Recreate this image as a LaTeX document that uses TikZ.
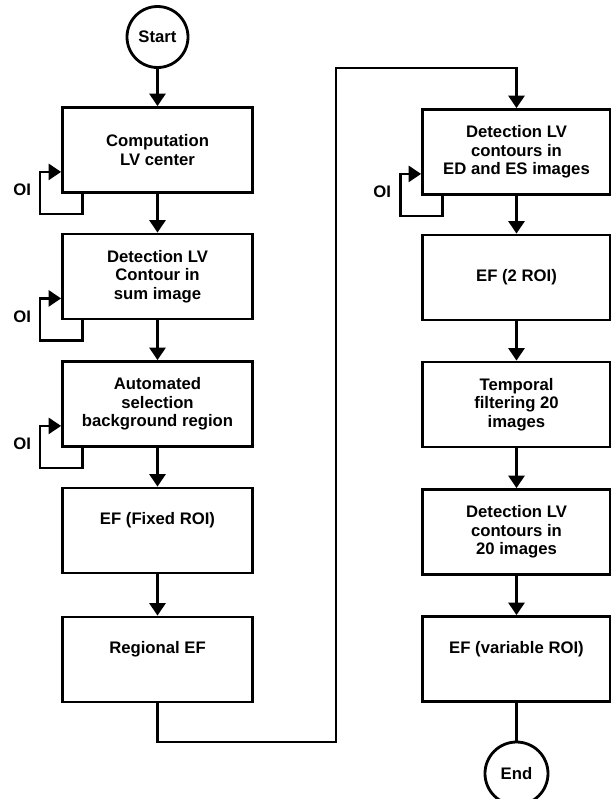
\documentclass[tikz,border=0pt]{standalone}
\usepackage{fontspec}
\setmainfont{Liberation Sans}
\usetikzlibrary{positioning, arrows.meta, calc}

\tikzset{
    stepbox/.style={draw, line width=1.6pt, minimum width=3.8cm, minimum height=1.7cm, align=center, inner sep=2pt},
    termnode/.style={draw, circle, line width=1.6pt, minimum size=1.22cm, inner sep=0pt},
    flow/.style={line width=1.6pt, -{Triangle[length=0.25cm, width=0.32cm]}},
    plainline/.style={line width=1.6pt}
}

\begin{document}
\begin{tikzpicture}[font=\bfseries\fontsize{9.5}{10.5}\selectfont]
    \useasboundingbox (0,0) rectangle (12.22,-15.98);

    % left column
    \node[termnode] (start) at (3.15,-0.74) {Start};
    \node[stepbox] (comp) at (3.15,-3.00) {Computation\\LV center};
    \node[stepbox] (sumc) at (3.15,-5.53) {Detection LV\\Contour in\\sum image};
    \node[stepbox] (bgsel) at (3.15,-8.08) {Automated\\selection\\background region};
    \node[stepbox] (effix) at (3.15,-10.61) {EF (Fixed ROI)\\ \strut};
    \node[stepbox] (regef) at (3.15,-13.19) {Regional EF\\ \strut};

    % right column
    \node[stepbox, minimum width=3.76cm] (edes) at (10.33,-3.04) {Detection LV\\contours in\\ED and ES images};
    \node[stepbox, minimum width=3.76cm] (eftwo) at (10.33,-5.55) {EF (2 ROI)};
    \node[stepbox, minimum width=3.76cm] (tempf) at (10.33,-8.09) {Temporal\\filtering 20\\images};
    \node[stepbox, minimum width=3.76cm] (det20) at (10.33,-10.64) {Detection LV\\contours in\\20 images};
    \node[stepbox, minimum width=3.76cm] (efvar) at (10.33,-13.18) {EF (variable ROI)\\ \strut};
    \node[termnode, minimum size=1.26cm] (end) at (10.33,-15.47) {End};

    \draw[flow] (start) -- (comp);
    \draw[flow] (comp) -- (sumc);
    \draw[flow] (sumc) -- (bgsel);
    \draw[flow] (bgsel) -- (effix);
    \draw[flow] (effix) -- (regef);

    % link between the two columns
    \coordinate (lowturn) at (6.72,-14.84);
    \coordinate (highturn) at (6.72,-1.36);
    \draw[flow] (regef.south) |- (lowturn) -- (highturn) -| (edes.north);

    \draw[flow] (edes) -- (eftwo);
    \draw[flow] (eftwo) -- (tempf);
    \draw[flow] (tempf) -- (det20);
    \draw[flow] (det20) -- (efvar);
    \draw[plainline] (efvar) -- (end);

    % OI loops
    \foreach \b in {comp,sumc,bgsel,edes} {
        \draw[flow] ([xshift=0.43cm]\b.south west) -- ++(0,-0.4) -- ++(-0.85,0)
            |- ([yshift=0.44cm]\b.south west);
        \node (oi-\b) at ([xshift=-0.78cm, yshift=0.08cm]\b.south west) {OI};
    }
\end{tikzpicture}
\end{document}
